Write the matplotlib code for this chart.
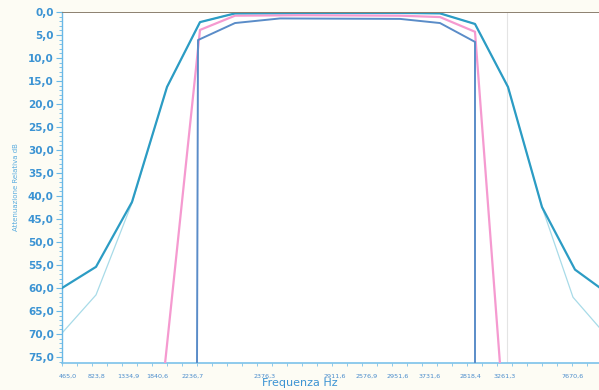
import matplotlib
matplotlib.use("Agg")
import matplotlib.pyplot as plt
import numpy as np

# x positions are along the (non-linear) frequency axis as drawn
tick_pos = [68, 97, 128, 157, 193, 265, 335, 367, 398, 430, 470, 505, 573]
tick_labels = ["465,0", "823,8", "1334,9", "1840,6", "2236,7", "2376,3", "2911,6",
               "2576,9", "2951,6", "3731,6", "2818,4", "3261,3", "7670,6"]

outer_x = [62, 96, 132, 167, 200, 235, 300, 400, 440, 475, 508, 542, 575, 599]
outer_y = [60.0, 55.4, 41.3, 16.3, 2.2, 0.3, 0.2, 0.2, 0.3, 2.6, 16.3, 42.4, 56.0, 59.8]

light_x = [62, 96, 132, 167, 200, 235, 300, 400, 440, 475, 508, 542, 573, 599]
light_y = [69.8, 61.5, 41.5, 16.3, 2.2, 0.3, 0.2, 0.2, 0.3, 2.6, 16.3, 42.4, 62.0, 68.5]

pink_x = [165, 200, 235, 300, 400, 440, 475, 500]
pink_y = [76.5, 3.9, 0.8, 0.7, 0.8, 1.1, 4.3, 76.5]

narrow_x = [197, 198, 235, 280, 400, 440, 475, 475]
narrow_y = [76.5, 6.1, 2.4, 1.4, 1.5, 2.4, 6.5, 76.5]

yticks = np.arange(0, 76, 5)

fig = plt.figure(figsize=(5.99, 3.90), dpi=100)
fig.patch.set_facecolor("#fdfcf4")
ax = fig.add_axes([62/599, 1 - 363/390, 1 - 62/599, (363 - 12)/390])
ax.set_facecolor("#ffffff")

ax.plot(light_x, light_y, color="#a8dbe8", lw=0.9, zorder=2)
ax.plot(outer_x, outer_y, color="#2c9cc4", lw=1.6, zorder=4)
ax.plot(pink_x, pink_y, color="#f59ad0", lw=1.6, zorder=3)
ax.plot(narrow_x, narrow_y, color="#5a8cc8", lw=1.4, zorder=3)

ax.axhline(0, color="#8c8070", lw=1.4, zorder=5)
ax.axvline(507, color="#e4e4e4", lw=0.8, zorder=1)

ax.set_xlim(62, 599)
ax.set_ylim(76.3, 0)

ax.set_yticks(yticks)
ax.set_yticklabels([f"{v:.1f}".replace(".", ",") for v in yticks],
                   fontsize=7.5, fontweight="bold", color="#3b93d3")
ax.set_yticks(np.arange(0, 76.3, 1), minor=True)
ax.set_xticks(tick_pos)
ax.set_xticklabels(tick_labels, fontsize=4.6, color="#4a8ccc")
ax.set_xticks(np.arange(62, 599, 15), minor=True)

ax.tick_params(axis="y", which="major", length=4, color="#6ab8e6", pad=2)
ax.tick_params(axis="y", which="minor", length=2, color="#6ab8e6")
ax.tick_params(axis="x", which="major", length=0, pad=8)
ax.tick_params(axis="x", which="minor", length=2, color="#7cc2ea")

for s in ["top", "right"]:
    ax.spines[s].set_visible(False)
ax.spines["left"].set_color("#6ab8e6")
ax.spines["bottom"].set_color("#7cc2ea")
ax.spines["left"].set_linewidth(1.0)
ax.spines["bottom"].set_linewidth(1.2)

fig.text(300/599, 1 - 383/390, "Frequenza Hz", fontsize=8, color="#3b93d3",
         ha="center", va="center")
ax.set_ylabel("Attenuazione Relativa dB", fontsize=5, color="#5aacdf", labelpad=6)

fig.savefig("out.png", dpi=100, facecolor=fig.get_facecolor())
